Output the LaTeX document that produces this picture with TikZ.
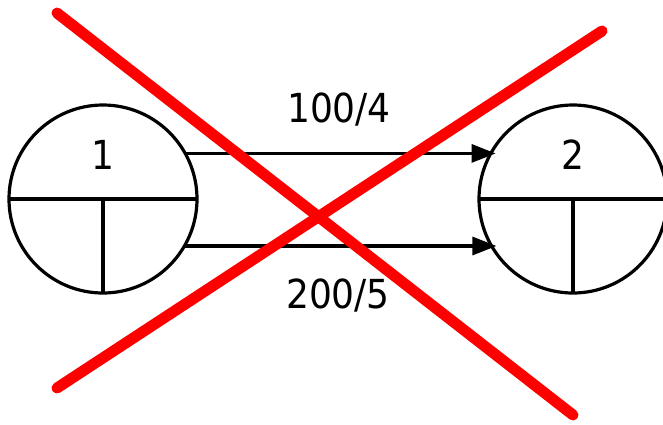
\documentclass[tikz,border=0pt]{standalone}
\usepackage{fontspec}
\newfontfamily\labfont{DejaVu Sans Condensed}
\usetikzlibrary{arrows.meta}
\begin{document}
\begin{tikzpicture}[x=1pt,y=-1pt,
  state/.style={circle,draw=black,line width=3.2pt,minimum size=188pt,inner sep=0pt,outer sep=0pt},
  part/.style={draw=black,line width=3.2pt},
  flow/.style={draw=black,line width=3.2pt,-{Triangle[length=24pt,width=18pt]}},
  lab/.style={font=\labfont\fontsize{40}{44}\selectfont,anchor=base,inner sep=0pt},
  cross/.style={draw=red,line width=11pt,line cap=round}]
\useasboundingbox (0,0) rectangle (663,424);
\node[state] (c1) at (103,199) {};
\node[state] (c2) at (573,199) {};
\draw[part] (c1.west) -- (c1.east);
\draw[part] (c1.center) -- (c1.south);
\draw[part] (c2.west) -- (c2.east);
\draw[part] (c2.center) -- (c2.south);
\node[lab] (n1) at (103,169) {1};
\node[lab] (n2) at (573,169) {2};
\draw[flow] (c1.29.3) -- ([xshift=4pt]c1.29.3 -| c2.150.7);
\draw[flow] (c1.-30.7) -- ([xshift=4pt]c1.-30.7 -| c2.-149.3);
\node[lab] (l1) at (339,122) {100/4};
\node[lab] (l2) at (338,308) {200/5};
\coordinate (a1) at (57,13);
\coordinate (a2) at (573,415);
\coordinate (b1) at (57,388);
\coordinate (b2) at (602,31);
\draw[cross] (a1) -- (a2);
\draw[cross] (b1) -- (b2);
\end{tikzpicture}
\end{document}
